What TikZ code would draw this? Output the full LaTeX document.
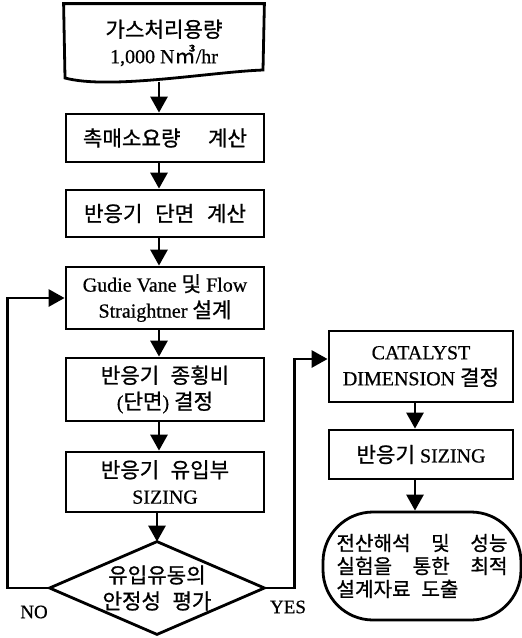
\documentclass[tikz,border=0pt]{standalone}
\usepackage{fontspec}
\setmainfont{Liberation Serif}[FakeBold=0.6]
\newfontfamily\krf{Noto Sans CJK KR}[Scale=1.06,WordSpace=2.4,FakeBold=0.8]
\newcommand\K[1]{{\krf #1}}
\usetikzlibrary{arrows.meta}
\begin{document}
\begin{tikzpicture}[x=1pt,y=-1pt,
  lw/.style={line width=2.8pt},
  box/.style={draw, lw, minimum width=198pt, align=center, inner sep=0pt, font=\fontsize{20}{26}\selectfont},
  arr/.style={lw, -{Triangle[length=16pt,width=17pt]}},
  lbl/.style={font=\fontsize{19}{22}\selectfont}]
\fill[white] (0,0) rectangle (522,638);
\useasboundingbox (0,0) rectangle (522,638);

% main column
\node[box, draw=none, minimum height=76pt] (top) at (164,43) {\K{가스처리용량}\\1,000 N\K{㎥}/hr};
\draw[lw, line join=miter] (top.north west) -- (top.north east) -- (263,70) .. controls (210,72) and (110,90) .. (65,78) -- cycle;
\node[box, minimum height=48pt] (b2) at (165,138) {\makebox[164pt][s]{\K{촉매소요량 계산}}};
\node[box, minimum height=47pt] (b3) at (165,213.5) {\makebox[162pt][s]{\K{반응기 단면 계산}}};
\node[box, minimum height=62pt] (b4) at (165,298) {Gudie Vane \K{및} Flow\\Straightner \K{설계}};
\node[box, minimum height=63pt] (b5) at (165,389.5) {\K{반응기 종횡비}\\(\K{단면}) \K{결정}};
\node[box, minimum height=60pt] (b6) at (165,482) {\K{반응기 유입부}\\SIZING};
\node[box, draw=none, minimum width=212pt, minimum height=90pt] (dia) at (157,588) {\K{유입유동의}\\\K{안정성 평가}};
\draw[lw, line join=miter] (dia.north) -- (dia.east) -- (dia.south) -- (dia.west) -- cycle;

% right column
\node[box, minimum width=184pt, minimum height=71pt] (c1) at (421,366.5) {CATALYST\\DIMENSION \K{결정}};
\node[box, minimum width=184pt, minimum height=49pt] (c2) at (421,454.5) {\K{반응기} SIZING};
\node[box, rounded corners=50pt, minimum width=198pt, minimum height=108pt, align=left, font=\fontsize{19}{23}\selectfont] (term) at (422,566)
  {\makebox[171pt][s]{\K{전산해석 및 성능}}\\\makebox[171pt][s]{\K{실험을 통한 최적}}\\\K{설계자료 도출}};

% connectors
\coordinate (mx) at (159,0);
\coordinate (rx) at (415,0);
\draw[arr] (top.south -| mx) -- (b2.north -| mx);
\draw[arr] (b2.south -| mx) -- (b3.north -| mx);
\draw[arr] (b3.south -| mx) -- (b4.north -| mx);
\draw[arr] (b4.south -| mx) -- (b5.north -| mx);
\draw[arr] (b5.south -| mx) -- (b6.north -| mx);
\draw[arr] (b6.south -| dia.north) -- (dia.north);
\draw[arr] (dia.west) -- ++(-42,0) |- (b4.west);
\draw[arr] (dia.east) -- ++(30,0) |- ([yshift=7.5pt]c1.west);
\draw[arr] (c1.south -| rx) -- (c2.north -| rx);
\draw[arr] (c2.south -| rx) -- (term.north -| rx);

\node[lbl] (no) at (34,612) {NO};
\node[lbl] (yes) at (288,607) {YES};
\end{tikzpicture}
\end{document}
